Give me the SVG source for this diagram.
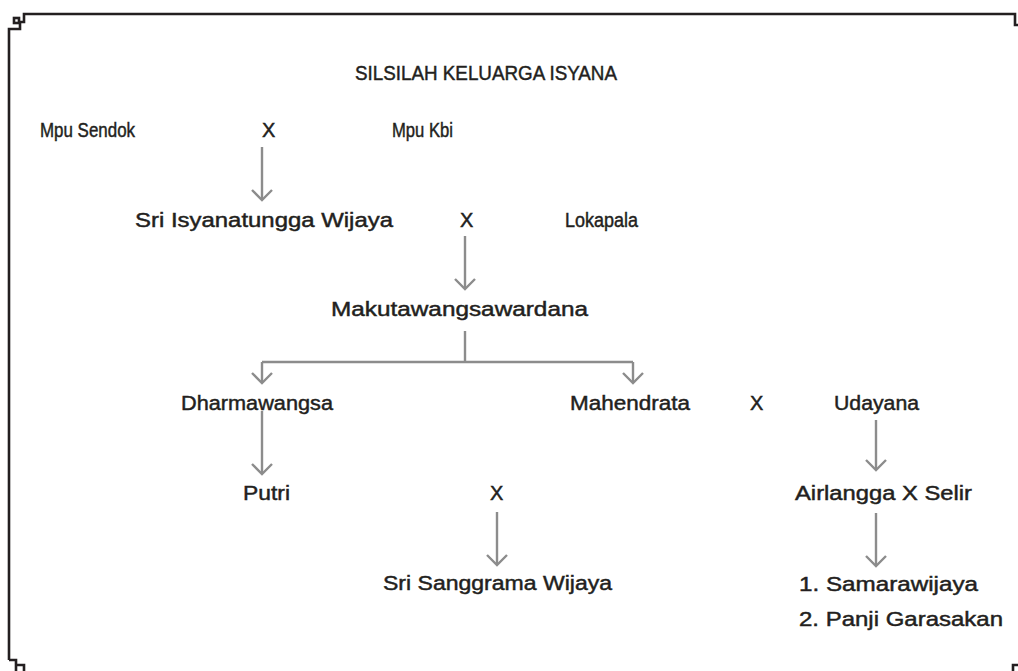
<svg xmlns="http://www.w3.org/2000/svg" width="1018" height="671" viewBox="0 0 1018 671">
<style>
.t{font-family:"Liberation Sans",Arial,sans-serif;font-size:20px;fill:#231f20;stroke:#231f20;stroke-width:0.45px;}
.c{fill:none;stroke:#8c8c8c;stroke-width:2.4;}
.b{fill:none;stroke:#231f20;stroke-width:2.6;}
</style>
<defs>
<marker id="ah" markerUnits="userSpaceOnUse" markerWidth="16" markerHeight="24" refX="13" refY="12" orient="auto" viewBox="0 0 16 24">
<path d="M3,2 L13,12 L3,22" fill="none" stroke="#8c8c8c" stroke-width="2.4"/>
</marker>
</defs>
<rect width="1018" height="671" fill="#ffffff"/>
<g id="border">
<path class="b" d="M9,660 V29 H20 V22 H24 V14 H1015 V25 H1018"/>
<rect class="b" x="14" y="18" width="5" height="5" stroke-width="2"/>
<path class="b" d="M9,660 H16 V671"/>
<path class="b" d="M16,665 H24 V671"/>
<path class="b" d="M1013,671 V665 H1018"/>
</g>
<g id="connectors">
<path class="c" d="M262,147 V200" marker-end="url(#ah)"/>
<path class="c" d="M465,236 V289" marker-end="url(#ah)"/>
<path class="c" d="M465,331 V362"/>
<path class="c" d="M262,362 H633"/>
<path class="c" d="M262,362 V383" marker-end="url(#ah)"/>
<path class="c" d="M633,362 V383" marker-end="url(#ah)"/>
<path class="c" d="M262,411 V474" marker-end="url(#ah)"/>
<path class="c" d="M876,420 V470" marker-end="url(#ah)"/>
<path class="c" d="M497,512 V565" marker-end="url(#ah)"/>
<path class="c" d="M876,513 V566" marker-end="url(#ah)"/>
</g>
<g id="title"><text class="t" x="355" y="80" textLength="262" lengthAdjust="spacingAndGlyphs">SILSILAH KELUARGA ISYANA</text></g>
<g id="mpu-sendok"><text class="t" x="40" y="137" textLength="95" lengthAdjust="spacingAndGlyphs">Mpu Sendok</text></g>
<g id="x1"><text class="t" x="262" y="137">X</text></g>
<g id="mpu-kbi"><text class="t" x="392" y="137" textLength="61" lengthAdjust="spacingAndGlyphs">Mpu Kbi</text></g>
<g id="sri-isyana"><text class="t" x="135" y="227" textLength="258" lengthAdjust="spacingAndGlyphs">Sri Isyanatungga Wijaya</text></g>
<g id="x2"><text class="t" x="460" y="227">X</text></g>
<g id="lokapala"><text class="t" x="565" y="227" textLength="73" lengthAdjust="spacingAndGlyphs">Lokapala</text></g>
<g id="makuta"><text class="t" x="331" y="316" textLength="257" lengthAdjust="spacingAndGlyphs">Makutawangsawardana</text></g>
<g id="dharma"><text class="t" x="181" y="410" textLength="152" lengthAdjust="spacingAndGlyphs">Dharmawangsa</text></g>
<g id="mahendrata"><text class="t" x="570" y="410" textLength="120" lengthAdjust="spacingAndGlyphs">Mahendrata</text></g>
<g id="x3"><text class="t" x="750" y="410">X</text></g>
<g id="udayana"><text class="t" x="834" y="410" textLength="85" lengthAdjust="spacingAndGlyphs">Udayana</text></g>
<g id="putri"><text class="t" x="243" y="500" textLength="47" lengthAdjust="spacingAndGlyphs">Putri</text></g>
<g id="x4"><text class="t" x="490" y="500">X</text></g>
<g id="airlangga"><text class="t" x="795" y="500" textLength="177" lengthAdjust="spacingAndGlyphs">Airlangga X Selir</text></g>
<g id="sri-sanggrama"><text class="t" x="383" y="590" textLength="229" lengthAdjust="spacingAndGlyphs">Sri Sanggrama Wijaya</text></g>
<g id="children">
<text class="t" x="799" y="591" textLength="179" lengthAdjust="spacingAndGlyphs">1. Samarawijaya</text>
<text class="t" x="799" y="626" textLength="204" lengthAdjust="spacingAndGlyphs">2. Panji Garasakan</text>
</g>
</svg>
